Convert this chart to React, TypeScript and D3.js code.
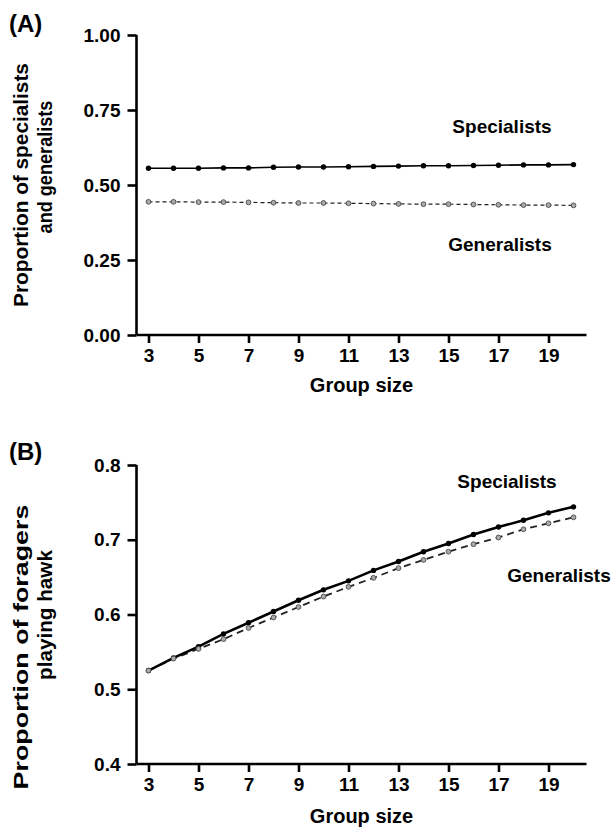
import React, { useEffect, useRef } from "react";
import * as d3 from "d3";

const groupSizes = [3, 4, 5, 6, 7, 8, 9, 10, 11, 12, 13, 14, 15, 16, 17, 18, 19, 20];
const specialistsA = [0.556, 0.556, 0.556, 0.557, 0.557, 0.559, 0.560, 0.560, 0.561, 0.562, 0.563, 0.564, 0.564, 0.565, 0.566, 0.567, 0.567, 0.568];
const generalistsA = [0.444, 0.444, 0.443, 0.443, 0.442, 0.441, 0.440, 0.440, 0.439, 0.438, 0.437, 0.436, 0.436, 0.435, 0.434, 0.433, 0.433, 0.432];
const specialistsB = [0.525, 0.542, 0.557, 0.574, 0.589, 0.604, 0.619, 0.633, 0.645, 0.659, 0.671, 0.684, 0.695, 0.707, 0.717, 0.726, 0.736, 0.744];
const generalistsB = [0.525, 0.541, 0.554, 0.567, 0.582, 0.596, 0.610, 0.624, 0.637, 0.649, 0.662, 0.673, 0.684, 0.694, 0.703, 0.714, 0.722, 0.730];
const xTicks = [3, 5, 7, 9, 11, 13, 15, 17, 19];
const yTicksA = [0, 0.25, 0.5, 0.75, 1.0];
const yTicksB = [0.4, 0.5, 0.6, 0.7, 0.8];

const FONT = "'Liberation Sans', Arial, sans-serif";

type PanelCfg = {
  top: number;
  bottom: number;
  yDomain: [number, number];
  yTicks: number[];
  yFmt: (v: number) => string;
  spec: number[];
  gen: number[];
  label: string;
  labelY: number;
  title1: string;
  title2: string;
  t1Center: number;
  t2Center: number;
  t1Len: number;
  t2Len: number;
  specLabel: [number, number];
  genLabel: [number, number];
  specWidth: number;
  genWidth: number;
  genDash: string;
  titleY: number;
};

function drawPanel(g: d3.Selection<SVGGElement, unknown, null, undefined>, c: PanelCfg) {
  const left = 136.5;
  const right = 586.5;
  const x = d3.scaleLinear().domain([2.52, 20.52]).range([left, right]);
  const y = d3.scaleLinear().domain(c.yDomain).range([c.bottom, c.top]);

  const yAxis = g
    .append("g")
    .attr("transform", `translate(${left},0)`)
    .call(d3.axisLeft(y).tickValues(c.yTicks).tickFormat((d) => c.yFmt(d as number)).tickSize(9).tickPadding(7));
  const xAxis = g
    .append("g")
    .attr("transform", `translate(0,${c.bottom})`)
    .call(d3.axisBottom(x).tickValues(xTicks).tickFormat(d3.format("d")).tickSize(8).tickPadding(6));
  for (const ax of [yAxis, xAxis]) {
    ax.select(".domain").attr("stroke", "#000").attr("stroke-width", 2.6);
    ax.selectAll(".tick line").attr("stroke", "#000").attr("stroke-width", 2.6);
    ax.selectAll(".tick text")
      .attr("fill", "#000")
      .attr("font-family", FONT)
      .attr("font-weight", "bold")
      .attr("font-size", 19);
    ax.attr("font-family", FONT);
  }
  xAxis.select(".domain").attr("d", `M${left},0H${right}`);
  yAxis.select(".domain").attr("d", `M0,${c.bottom}V${c.top}`);

  const line = d3
    .line<number>()
    .x((_, i) => x(groupSizes[i]))
    .y((d) => y(d));

  g.append("path")
    .attr("d", line(c.gen) || "")
    .attr("fill", "none")
    .attr("stroke", "#222")
    .attr("stroke-width", c.genWidth)
    .attr("stroke-dasharray", c.genDash);
  g.append("path")
    .attr("d", line(c.spec) || "")
    .attr("fill", "none")
    .attr("stroke", "#000")
    .attr("stroke-width", c.specWidth);

  g.selectAll(".sp")
    .data(c.spec)
    .enter()
    .append("circle")
    .attr("cx", (_, i) => x(groupSizes[i]))
    .attr("cy", (d) => y(d))
    .attr("r", 2.7)
    .attr("fill", "#000");
  g.selectAll(".gp")
    .data(c.gen)
    .enter()
    .append("circle")
    .attr("cx", (_, i) => x(groupSizes[i]))
    .attr("cy", (d) => y(d))
    .attr("r", 2.4)
    .attr("fill", "#aaa")
    .attr("stroke", "#555")
    .attr("stroke-width", 1);

  const txt = (s: string, tx: number, ty: number, size: number, anchor = "middle", rot = 0, len = 0) => {
    const t = g
      .append("text")
      .attr("transform", `translate(${tx},${ty}) rotate(${rot})`)
      .attr("text-anchor", anchor)
      .attr("font-family", FONT)
      .attr("font-weight", "bold")
      .attr("font-size", size)
      .attr("fill", "#000")
      .text(s);
    if (len) {
      const nat = (t.node() as SVGTextElement).getComputedTextLength();
      if (nat > 0) {
        const sx = len / nat;
        t.attr("transform", `translate(${tx},${ty}) rotate(${rot}) scale(${sx},1)`);
      }
    }
    return t;
  };

  txt(c.label, 9, c.labelY, 24, "start");
  txt(c.title1, 28, c.t1Center, 19.5, "middle", -90, c.t1Len);
  txt(c.title2, 52, c.t2Center, 19.5, "middle", -90, c.t2Len);
  txt("Group size", (left + right) / 2, c.titleY, 20);
  txt("Specialists", c.specLabel[0], c.specLabel[1], 19);
  txt("Generalists", c.genLabel[0], c.genLabel[1], 19);
}

export default function App() {
  const ref = useRef<SVGSVGElement>(null);
  useEffect(() => {
    const svg = d3.select(ref.current!);
    svg.selectAll("*").remove();
    drawPanel(svg.append("g"), {
      top: 35,
      bottom: 335,
      yDomain: [0, 1],
      yTicks: yTicksA,
      yFmt: d3.format(".2f"),
      spec: specialistsA,
      gen: generalistsA,
      label: "(A)",
      labelY: 32,
      title1: "Proportion of specialists",
      title2: "and generalists",
      t1Center: 185,
      t2Center: 167,
      t1Len: 244,
      t2Len: 133,
      specLabel: [502, 133],
      genLabel: [500, 251],
      specWidth: 1.6,
      genWidth: 1.2,
      genDash: "4,3",
      titleY: 392,
    });
    drawPanel(svg.append("g"), {
      top: 465,
      bottom: 764,
      yDomain: [0.4, 0.8],
      yTicks: yTicksB,
      yFmt: d3.format(".1f"),
      spec: specialistsB,
      gen: generalistsB,
      label: "(B)",
      labelY: 460,
      title1: "Proportion of foragers",
      title2: "playing hawk",
      t1Center: 647,
      t2Center: 615,
      t1Len: 285,
      t2Len: 130,
      specLabel: [507, 488],
      genLabel: [559, 582],
      specWidth: 2.6,
      genWidth: 1.8,
      genDash: "7,5",
      titleY: 823,
    });
  }, []);
  return (
    <svg
      ref={ref}
      width={614}
      height={829}
      style={{ position: "absolute", left: 0, top: 0, background: "#fff" }}
    />
  );
}
